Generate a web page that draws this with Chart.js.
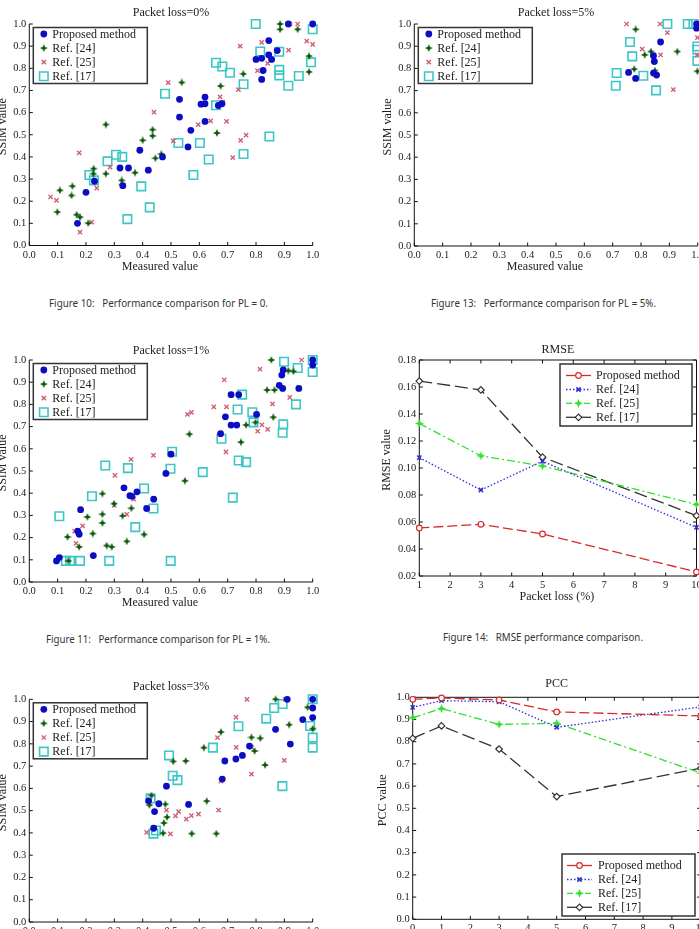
<!DOCTYPE html>
<html><head><meta charset="utf-8">
<script src="https://cdn.jsdelivr.net/npm/chart.js@4/dist/chart.umd.min.js"></script>
<style>
html,body{margin:0;padding:0;background:#fff;}
body{width:699px;height:929px;overflow:hidden;position:relative;}
canvas{position:absolute;}
.cap{position:absolute;font-family:"Noto Sans",sans-serif;font-size:11.5px;line-height:14px;color:#333;white-space:pre;transform-origin:0 50%;}
</style></head><body>
<canvas id="cA"></canvas><canvas id="cB"></canvas><canvas id="cC"></canvas>
<canvas id="cD"></canvas><canvas id="cE"></canvas><canvas id="cF"></canvas>
<div class="cap" id="cap10">Figure 10:   Performance comparison for PL = 0.</div>
<div class="cap" id="cap13">Figure 13:   Performance comparison for PL = 5%.</div>
<div class="cap" id="cap11">Figure 11:   Performance comparison for PL = 1%.</div>
<div class="cap" id="cap14">Figure 14:   RMSE performance comparison.</div>
<script>
// ---------------- data ----------------
const seriesNames = ['Proposed method', 'Ref. [24]', 'Ref. [25]', 'Ref. [17]'];

// Packet loss = 0%  ([measured, SSIM])
const pl0Proposed = [[0.17,0.10],[0.20,0.24],[0.23,0.29],[0.32,0.35],[0.33,0.27],[0.35,0.35],[0.39,0.43],[0.42,0.34],[0.47,0.40],[0.53,0.66],[0.53,0.58],[0.56,0.445],[0.57,0.52],[0.606,0.638],[0.62,0.64],[0.62,0.67],[0.62,0.56],[0.667,0.632],[0.68,0.64],[0.80,0.84],[0.82,0.845],[0.825,0.79],[0.82,0.75],[0.845,0.925],[0.845,0.86],[0.855,0.84],[0.875,0.88],[0.914,1.0],[1.0,1.0]];
const pl0Ref24 = [[0.099,0.151],[0.108,0.249],[0.152,0.268],[0.149,0.226],[0.167,0.139],[0.179,0.128],[0.208,0.101],[0.227,0.347],[0.226,0.324],[0.27,0.324],[0.27,0.546],[0.326,0.294],[0.327,0.275],[0.373,0.329],[0.40,0.475],[0.435,0.523],[0.435,0.495],[0.445,0.394],[0.466,0.413],[0.538,0.736],[0.662,0.508],[0.675,0.72],[0.755,0.775],[0.885,1.0],[0.885,0.976],[0.947,0.976],[0.987,0.855],[0.987,0.784]];
const pl0Ref25 = [[0.075,0.219],[0.096,0.204],[0.176,0.418],[0.179,0.06],[0.22,0.106],[0.238,0.259],[0.285,0.354],[0.44,0.602],[0.49,0.735],[0.508,0.472],[0.596,0.546],[0.64,0.563],[0.673,0.671],[0.682,0.647],[0.696,0.56],[0.718,0.397],[0.738,0.704],[0.744,0.9],[0.746,0.475],[0.765,0.498],[0.805,0.789],[0.82,0.917],[0.841,0.822],[0.915,0.882],[0.947,1.0],[0.92,1.0],[0.979,0.923],[1.0,0.908]];
const pl0Ref17 = [[0.212,0.318],[0.228,0.294],[0.276,0.38],[0.306,0.41],[0.328,0.40],[0.346,0.119],[0.395,0.267],[0.425,0.172],[0.479,0.685],[0.526,0.463],[0.579,0.318],[0.602,0.463],[0.633,0.388],[0.659,0.825],[0.659,0.633],[0.681,0.808],[0.708,0.78],[0.756,0.728],[0.756,0.413],[0.799,1.0],[0.815,0.876],[0.847,0.492],[0.882,0.875],[0.882,0.793],[0.882,0.768],[0.914,0.721],[0.951,0.765],[0.994,0.827],[1.0,0.976]];

// Packet loss = 5%
const pl5Proposed = [[0.756,0.782],[0.781,0.755],[0.844,0.779],[0.855,0.770],[0.844,0.857],[0.847,0.831],[0.869,0.919],[0.996,1.0],[0.996,0.981]];
const pl5Ref24 = [[0.781,0.976],[0.776,0.797],[0.813,0.861],[0.835,0.876],[0.849,0.79],[0.928,0.876],[0.999,0.787]];
const pl5Ref25 = [[0.749,1.0],[0.804,0.887],[0.867,1.0],[0.869,0.861],[0.893,0.961],[0.914,0.704],[0.999,0.939],[0.999,0.861]];
const pl5Ref17 = [[0.711,0.722],[0.714,0.779],[0.761,0.919],[0.769,0.854],[0.808,0.767],[0.853,0.701],[0.893,1.0],[0.965,1.0],[0.985,1.0],[0.999,0.899],[0.999,0.884],[0.999,0.834]];

// Packet loss = 1%
const pl1Proposed = [[0.096,0.095],[0.106,0.11],[0.181,0.326],[0.171,0.229],[0.176,0.215],[0.226,0.119],[0.334,0.424],[0.355,0.389],[0.362,0.386],[0.38,0.406],[0.414,0.331],[0.439,0.373],[0.482,0.489],[0.5,0.576],[0.675,0.668],[0.692,0.744],[0.712,0.844],[0.739,0.844],[0.712,0.707],[0.732,0.707],[0.802,0.755],[0.882,0.886],[0.891,0.932],[0.896,0.955],[0.894,0.872],[0.951,0.872],[1.0,1.0],[1.0,0.977]];
const pl1Ref24 = [[0.135,0.203],[0.138,0.095],[0.176,0.158],[0.205,0.293],[0.224,0.218],[0.258,0.398],[0.258,0.305],[0.258,0.266],[0.273,0.164],[0.291,0.158],[0.299,0.353],[0.329,0.298],[0.344,0.183],[0.36,0.332],[0.405,0.214],[0.549,0.456],[0.565,0.666],[0.747,0.63],[0.765,0.707],[0.798,0.719],[0.839,0.865],[0.865,0.865],[0.861,0.742],[0.854,1.0],[0.914,0.952],[0.932,0.949]];
const pl1Ref25 = [[0.16,0.229],[0.165,0.174],[0.188,0.253],[0.302,0.48],[0.30,0.346],[0.344,0.305],[0.359,0.552],[0.369,0.373],[0.438,0.57],[0.499,0.576],[0.558,0.755],[0.572,0.764],[0.651,0.789],[0.688,0.911],[0.696,0.789],[0.694,0.586],[0.814,0.959],[0.806,0.68],[0.821,0.708],[0.841,0.687],[0.858,0.802],[0.919,0.832],[0.961,1.0]];
const pl1Ref17 = [[0.106,0.296],[0.129,0.095],[0.144,0.095],[0.179,0.095],[0.221,0.386],[0.268,0.525],[0.282,0.095],[0.348,0.513],[0.374,0.247],[0.405,0.421],[0.438,0.331],[0.498,0.51],[0.504,0.587],[0.499,0.095],[0.612,0.495],[0.678,0.645],[0.718,0.38],[0.735,0.777],[0.739,0.547],[0.751,0.844],[0.765,0.54],[0.787,0.765],[0.791,0.719],[0.899,0.992],[0.896,0.71],[0.894,0.672],[0.947,0.964],[0.941,0.8],[1.0,1.0],[1.0,0.946]];

// Packet loss = 3%
const pl3Proposed = [[0.421,0.544],[0.442,0.496],[0.439,0.421],[0.457,0.531],[0.484,0.61],[0.562,0.528],[0.681,0.642],[0.69,0.723],[0.729,0.732],[0.752,0.748],[0.777,0.79],[0.869,0.865],[0.91,1.0],[0.921,0.799],[0.965,0.909],[1.0,1.0],[1.0,0.961],[1.0,0.918]];
const pl3Ref24 = [[0.424,0.525],[0.431,0.568],[0.472,0.399],[0.475,0.445],[0.48,0.529],[0.486,0.471],[0.508,0.721],[0.552,0.723],[0.573,0.397],[0.616,0.783],[0.626,0.543],[0.66,0.397],[0.676,0.853],[0.784,0.829],[0.795,0.768],[0.815,0.825],[0.832,0.705],[0.869,1.0],[0.917,0.886],[0.982,0.964],[1.0,0.868]];
const pl3Ref25 = [[0.414,0.402],[0.484,0.502],[0.498,0.396],[0.516,0.477],[0.527,0.496],[0.554,0.462],[0.572,0.478],[0.597,0.484],[0.664,0.828],[0.668,0.502],[0.676,0.633],[0.729,0.919],[0.73,0.784],[0.768,1.0],[0.784,0.664],[0.785,0.784],[0.9,0.726],[0.903,1.0]];
const pl3Ref17 = [[0.428,0.555],[0.438,0.397],[0.447,0.411],[0.493,0.748],[0.506,0.657],[0.523,0.637],[0.648,0.783],[0.738,0.879],[0.836,0.913],[0.864,0.961],[0.893,0.61],[0.894,0.979],[0.991,0.88],[1.0,1.0],[1.0,0.828],[1.0,0.783]];

// RMSE vs packet loss
const rmseLoss = [1, 3, 5, 10];
const rmseProposed = [0.0556, 0.0583, 0.0511, 0.023];
const rmseRef24 = [0.1077, 0.0837, 0.105, 0.056];
const rmseRef25 = [0.133, 0.109, 0.1015, 0.073];
const rmseRef17 = [0.1644, 0.1578, 0.108, 0.0647];

// PCC vs packet loss
const pccLoss = [0, 1, 3, 5, 10];
const pccProposed = [0.991, 0.997, 0.988, 0.934, 0.916];
const pccRef24 = [0.955, 0.985, 0.980, 0.865, 0.957];
const pccRef25 = [0.908, 0.949, 0.878, 0.883, 0.659];
const pccRef17 = [0.815, 0.871, 0.767, 0.553, 0.681];

// ---------------- helpers ----------------
const SERIF = '"Liberation Serif", "DejaVu Serif", serif';
const toXY = arr => arr.map(p => ({x: p[0], y: p[1]}));
const zipXY = (xs, ys) => xs.map((x, i) => ({x: x, y: ys[i]}));

function starImg(color, size) {
  const c = document.createElement('canvas');
  c.width = c.height = size;
  const g = c.getContext('2d'), h = size / 2, ri = h * 0.4;
  g.fillStyle = color;
  g.beginPath();
  for (let i = 0; i < 8; i++) {
    const ang = -Math.PI / 2 + i * Math.PI / 4, rr = (i % 2) ? ri : h;
    g.lineTo(h + rr * Math.cos(ang), h + rr * Math.sin(ang));
  }
  g.closePath(); g.fill();
  return c;
}

function drawMarker(ctx, ds, x, y) {
  const st = ds.pointStyle, r = ds.pointRadius;
  ctx.save();
  ctx.setLineDash([]);
  if (typeof st === 'object') { ctx.drawImage(st, x - st.width / 2, y - st.height / 2); ctx.restore(); return; }
  ctx.fillStyle = ds.pointBackgroundColor;
  ctx.strokeStyle = ds.pointBorderColor;
  ctx.lineWidth = ds.pointBorderWidth;
  ctx.beginPath();
  if (st === 'circle') ctx.arc(x, y, r, 0, Math.PI * 2);
  else if (st === 'rect') { const s = r * Math.SQRT1_2; ctx.rect(x - s, y - s, 2 * s, 2 * s); }
  else if (st === 'rectRot') { ctx.moveTo(x - r, y); ctx.lineTo(x, y - r); ctx.lineTo(x + r, y); ctx.lineTo(x, y + r); ctx.closePath(); }
  else if (st === 'crossRot') { const s = r * Math.SQRT1_2; ctx.moveTo(x - s, y - s); ctx.lineTo(x + s, y + s); ctx.moveTo(x + s, y - s); ctx.lineTo(x - s, y + s); }
  if (st !== 'crossRot') ctx.fill();
  if (ds.pointBorderWidth > 0) ctx.stroke();
  ctx.restore();
}

const decoPlugin = {
  id: 'deco',
  beforeDatasetsDraw(chart, args, o) {
    const {ctx, chartArea: a, scales} = chart;
    const tl = 3.5;
    ctx.save();
    ctx.strokeStyle = '#111'; ctx.lineWidth = 1; ctx.setLineDash([]);
    ctx.beginPath();
    if (o.box) {
      ctx.rect(a.left, a.top, a.right - a.left, a.bottom - a.top);
    } else {
      ctx.moveTo(a.left, a.top); ctx.lineTo(a.left, a.bottom); ctx.lineTo(a.right, a.bottom);
    }
    scales.x.ticks.forEach(t => {
      const p = scales.x.getPixelForValue(t.value);
      ctx.moveTo(p, a.bottom); ctx.lineTo(p, a.bottom - tl);
      if (o.box) { ctx.moveTo(p, a.top); ctx.lineTo(p, a.top + tl); }
    });
    scales.y.ticks.forEach(t => {
      const p = scales.y.getPixelForValue(t.value);
      ctx.moveTo(a.left, p); ctx.lineTo(a.left + tl, p);
      if (o.box) { ctx.moveTo(a.right, p); ctx.lineTo(a.right - tl, p); }
    });
    ctx.stroke();
    ctx.restore();
  },
  afterDraw(chart, args, o) {
    const {ctx, chartArea: a} = chart;
    const cx = (a.left + a.right) / 2, cy = (a.top + a.bottom) / 2;
    ctx.save();
    ctx.fillStyle = '#222';
    ctx.font = '12px ' + SERIF;
    ctx.textAlign = 'center'; ctx.textBaseline = 'middle';
    ctx.fillText(o.title, cx, a.top + o.titleDy);
    ctx.fillText(o.xTitle, cx + o.xTitleDx, a.bottom + 21);
    ctx.translate(a.left + o.yTitleDx, cy - 8);
    ctx.rotate(-Math.PI / 2);
    ctx.fillText(o.yTitle, 0, 0);
    ctx.restore();

    const L = o.legend;
    const bx = a.left + L.dx, by = a.top + L.dy;
    ctx.save();
    ctx.fillStyle = '#fff'; ctx.fillRect(bx, by, L.w, L.h);
    ctx.strokeStyle = '#333'; ctx.lineWidth = 1.5; ctx.strokeRect(bx, by, L.w, L.h);
    chart.data.datasets.forEach((ds, i) => {
      const y = by + L.rows[i];
      if (L.line) {
        ctx.save();
        ctx.strokeStyle = ds.borderColor; ctx.lineWidth = ds.borderWidth;
        ctx.setLineDash(ds.legendDash || []);
        ctx.beginPath(); ctx.moveTo(bx + L.l0, y); ctx.lineTo(bx + L.l1, y); ctx.stroke();
        ctx.restore();
      }
      drawMarker(ctx, ds, bx + L.mx, y);
      ctx.fillStyle = '#222'; ctx.font = '12px ' + SERIF;
      ctx.textAlign = 'left'; ctx.textBaseline = 'middle';
      ctx.fillText(ds.label, bx + L.tx, y + 0.5);
    });
    ctx.restore();
  }
};

const tickFont = {family: SERIF, size: 10.5};

function build(id, g, type, datasets, xs, ys, deco) {
  const cv = document.getElementById(id);
  const yW = 30, xH = 22, padL = 46, padT = 30, padR = 16, padB = 36;
  const cl = Math.floor(g.L) - padL, ct = Math.floor(g.T) - padT;
  const w = Math.ceil(g.R) + padR - cl, h = Math.ceil(g.B) + padB - ct;
  cv.width = w; cv.height = h;
  cv.style.left = cl + 'px'; cv.style.top = ct + 'px';
  cv.style.width = w + 'px'; cv.style.height = h + 'px';
  const padding = {left: g.L - cl - yW, top: g.T - ct, right: cl + w - g.R, bottom: ct + h - g.B - xH};
  new Chart(cv, {
    type: type,
    data: {datasets: datasets},
    options: {
      responsive: false, animation: false, devicePixelRatio: 1,
      layout: {padding: padding, autoPadding: false},
      plugins: {legend: {display: false}, tooltip: {enabled: false}, title: {display: false}, deco: deco},
      scales: {
        x: {type: 'linear', min: xs.min, max: xs.max,
            afterFit: s => { s.height = xH; },
            grid: {display: false, drawTicks: false}, border: {display: false},
            ticks: {stepSize: xs.step, autoSkip: false, maxRotation: 0, padding: 3, font: tickFont, color: '#222', callback: xs.fmt}},
        y: {type: 'linear', min: ys.min, max: ys.max,
            afterFit: s => { s.width = yW; },
            grid: {display: false, drawTicks: false}, border: {display: false},
            ticks: {stepSize: ys.step, autoSkip: false, padding: 3, font: tickFont, color: '#222', callback: ys.fmt}}
      }
    },
    plugins: [decoPlugin]
  });
}

// scatter styles
const cBlue = '#0c0cc4', cDkGreen = '#0b5a0b', cPink = '#cf5f78', cCyan = '#3cc6c6';
const dkStar = starImg(cDkGreen, 8);
function scatterSets(p, r24, r25, r17) {
  return [
    {label: seriesNames[0], data: toXY(p), pointStyle: 'circle', pointRadius: 3.4, pointBackgroundColor: cBlue, pointBorderColor: cBlue, pointBorderWidth: 0, showLine: false, clip: false},
    {label: seriesNames[1], data: toXY(r24), pointStyle: dkStar, pointRadius: 4, pointBackgroundColor: cDkGreen, pointBorderColor: cDkGreen, pointBorderWidth: 0, showLine: false, clip: false},
    {label: seriesNames[2], data: toXY(r25), pointStyle: 'crossRot', pointRadius: 3, pointBackgroundColor: cPink, pointBorderColor: cPink, pointBorderWidth: 1.4, showLine: false, clip: false},
    {label: seriesNames[3], data: toXY(r17), pointStyle: 'rect', pointRadius: 6, pointBackgroundColor: 'rgba(0,0,0,0)', pointBorderColor: cCyan, pointBorderWidth: 1.6, showLine: false, clip: false}
  ];
}
const ssimScale = {min: 0, max: 1, step: 0.1, fmt: v => v.toFixed(1)};
const scatterLegend = {dx: 4, dy: 3.5, w: 114, h: 56, rows: [6.5, 20.6, 34.7, 48.8], mx: 10.5, tx: 19, line: false};
function scatterDeco(title, titleDy) {
  return {title: title, titleDy: titleDy, xTitle: 'Measured value', xTitleDx: -11, yTitle: 'SSIM value', yTitleDx: -26, box: false, legend: scatterLegend};
}

build('cA', {L: 29.3, T: 24, R: 312.7, B: 245.5}, 'scatter', scatterSets(pl0Proposed, pl0Ref24, pl0Ref25, pl0Ref17), ssimScale, ssimScale, scatterDeco('Packet loss=0%', -11));
build('cB', {L: 414.3, T: 24, R: 697.7, B: 246}, 'scatter', scatterSets(pl5Proposed, pl5Ref24, pl5Ref25, pl5Ref17), ssimScale, ssimScale, scatterDeco('Packet loss=5%', -11));
build('cC', {L: 29.3, T: 360, R: 312.7, B: 582}, 'scatter', scatterSets(pl1Proposed, pl1Ref24, pl1Ref25, pl1Ref17), ssimScale, ssimScale, scatterDeco('Packet loss=1%', -9));
build('cE', {L: 29.3, T: 699.3, R: 312.7, B: 922}, 'scatter', scatterSets(pl3Proposed, pl3Ref24, pl3Ref25, pl3Ref17), ssimScale, ssimScale, scatterDeco('Packet loss=3%', -12));

// line styles
const cRed = '#d42a2a', cLBlue = '#2b2bd6', cLGreen = '#2fe02f', cDark = '#333';
const ltStar = starImg(cLGreen, 9);
function lineSets(xs, p, r24, r25, r17) {
  const base = {fill: false, tension: 0, borderWidth: 1.3, clip: false};
  return [
    Object.assign({}, base, {label: seriesNames[0], data: zipXY(xs, p), borderColor: cRed, borderDash: [10, 4], legendDash: [], pointStyle: 'circle', pointRadius: 2.8, pointBackgroundColor: '#fff', pointBorderColor: cRed, pointBorderWidth: 1.2}),
    Object.assign({}, base, {label: seriesNames[1], data: zipXY(xs, r24), borderColor: cLBlue, borderDash: [1.5, 2], legendDash: [1.5, 2], pointStyle: 'crossRot', pointRadius: 3, pointBackgroundColor: cLBlue, pointBorderColor: cLBlue, pointBorderWidth: 1.5}),
    Object.assign({}, base, {label: seriesNames[2], data: zipXY(xs, r25), borderColor: cLGreen, borderDash: [8, 3, 2, 3], legendDash: [6, 3], pointStyle: ltStar, pointRadius: 4, pointBackgroundColor: cLGreen, pointBorderColor: cLGreen, pointBorderWidth: 0}),
    Object.assign({}, base, {label: seriesNames[3], data: zipXY(xs, r17), borderColor: cDark, borderDash: [13, 5], legendDash: [], pointStyle: 'rectRot', pointRadius: 3.3, pointBackgroundColor: '#fff', pointBorderColor: cDark, pointBorderWidth: 1.2})
  ];
}
const lineLegendRows = [11.5, 25.5, 39.3, 53.3];

build('cD', {L: 419.3, T: 360, R: 696.5, B: 576}, 'line', lineSets(rmseLoss, rmseProposed, rmseRef24, rmseRef25, rmseRef17),
  {min: 1, max: 10, step: 1, fmt: v => String(v)},
  {min: 0.02, max: 0.18, step: 0.02, fmt: v => v.toFixed(2)},
  {title: 'RMSE', titleDy: -10, xTitle: 'Packet loss (%)', xTitleDx: -1, yTitle: 'RMSE value', yTitleDx: -32, box: true,
   legend: {dx: 140.7, dy: 4, w: 132, h: 62, rows: lineLegendRows, l0: 6, l1: 31, mx: 18.5, tx: 36, line: true}});

build('cF', {L: 412.7, T: 697.3, R: 700.7, B: 919.3}, 'line', lineSets(pccLoss, pccProposed, pccRef24, pccRef25, pccRef17),
  {min: 0, max: 10, step: 1, fmt: v => String(v)},
  {min: 0, max: 1, step: 0.1, fmt: v => v.toFixed(1)},
  {title: 'PCC', titleDy: -13, xTitle: 'Packet loss (%)', xTitleDx: -1, yTitle: 'PCC value', yTitleDx: -29.5, box: true,
   legend: {dx: 149.3, dy: 156.7, w: 133, h: 62, rows: lineLegendRows, l0: 5, l1: 30, mx: 17.5, tx: 36, line: true}});

// captions
const captions = [['cap10', 49, 219, 303], ['cap13', 430.7, 225, 303], ['cap11', 46, 224, 639], ['cap14', 443, 200, 637]];
captions.forEach(([id, x, wTarget, yc]) => {
  const el = document.getElementById(id);
  el.style.left = x + 'px';
  el.style.top = (yc - 7) + 'px';
  const w = el.getBoundingClientRect().width;
  el.style.transform = 'scaleX(' + (wTarget / w) + ')';
});
</script>
</body></html>
